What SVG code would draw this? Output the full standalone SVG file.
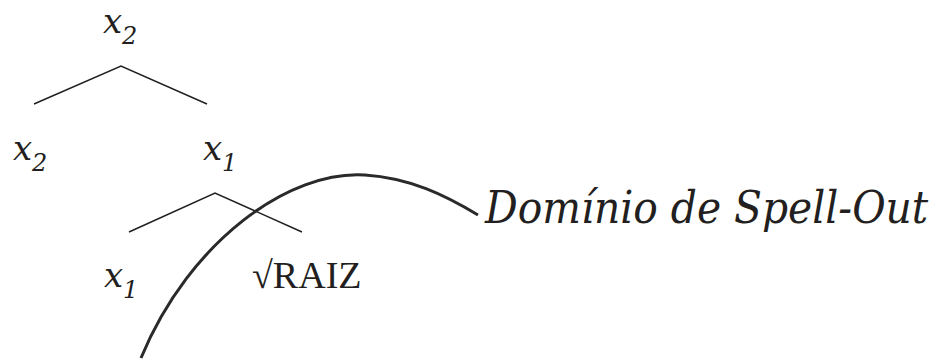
<svg xmlns="http://www.w3.org/2000/svg" width="932" height="361" viewBox="0 0 932 361">
<style>
.v{font-family:"DejaVu Serif",serif;font-style:italic;fill:#231f20;font-size:34px}
.s{font-size:24px}
.r{font-family:"Liberation Serif","Times New Roman",serif;fill:#231f20;font-size:38px}
.lbl{font-family:"DejaVu Serif",serif;font-style:italic;fill:#231f20;font-size:40px}
.e{stroke:#231f20;stroke-width:1.5;fill:none}
.arc{stroke:#2a2a2a;stroke-width:3;fill:none}
</style>
<rect width="932" height="361" fill="#fff"/>
<g id="connectors">
<path class="e" d="M34,104 L121,66 L207,104"/>
<path class="e" d="M129,232 L215,193 L302,232"/>
<path class="arc" d="M141,358 C190,240 290,170 365,175 C410,178 445,195 478,215"/>
</g>
<g id="n_root"><text class="v" x="103" y="33">x<tspan class="s" x="122" y="44">2</tspan></text></g>
<g id="n_x2"><text class="v" x="13" y="160">x<tspan class="s" x="32" y="171">2</tspan></text></g>
<g id="n_x1"><text class="v" x="203" y="160">x<tspan class="s" x="222" y="171">1</tspan></text></g>
<g id="n_x1b"><text class="v" x="104" y="287">x<tspan class="s" x="123" y="298">1</tspan></text></g>
<g id="n_raiz"><text class="r" x="252" y="288">√RAIZ</text></g>
<g id="n_label"><text class="lbl" transform="translate(485,223) scale(1.02,1.1)" x="0" y="0">Domínio de Spell-Out</text></g>
</svg>
